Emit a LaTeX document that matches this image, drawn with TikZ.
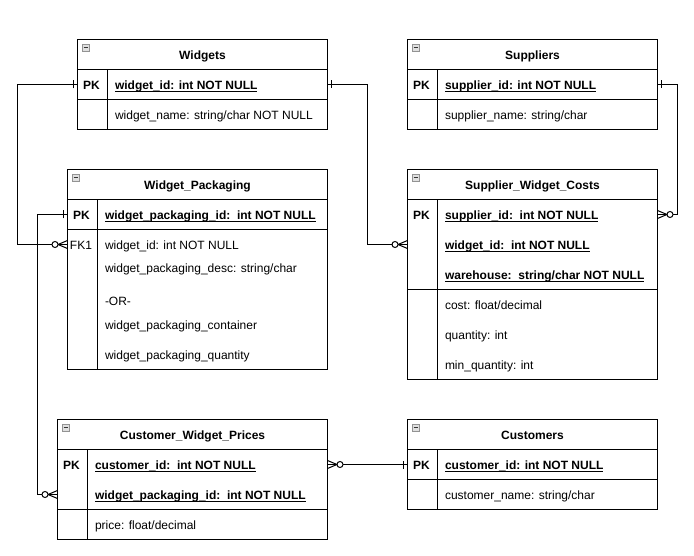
\documentclass[tikz,border=0pt]{standalone}
\usepackage{fontspec}
\setmainfont{Liberation Sans}
\newcommand\keyul[1]{\setbox0=\hbox{#1}\rlap{\rule[-2.2pt]{\wd0}{0.9pt}}\box0}
\tikzset{
  onebar/.pic={\draw[line width=1pt] (4,-4) -- (4,4);},
  zmany/.pic={\draw[line width=1pt] (0,-4) -- (9.5,0) -- (0,4);
              \draw[line width=1pt, fill=white] (12.5,0) circle[radius=3pt];},
  collapse/.pic={\draw[gray!85, line width=0.8pt, fill=gray!25] (4.5,4.5) rectangle (12,12);
                 \draw[black!80, line width=1.1pt] (6,8.25) -- (10.5,8.25);}
}
\begin{document}
\begin{tikzpicture}[x=1pt,y=-1pt,
  every node/.style={font=\fontsize{12pt}{14pt}\selectfont, inner sep=0pt, outer sep=0pt},
  sec/.style={draw, line width=1pt, anchor=north west},
  hdr/.style={sec, minimum height=30pt, text height=9.6pt, text depth=0pt,
              font=\fontsize{12pt}{14pt}\selectfont\bfseries},
  fld/.style={anchor=west, text height=9.6pt, text depth=0pt},
  pk/.style={text height=9.6pt, text depth=0pt, font=\fontsize{12pt}{14pt}\selectfont\bfseries},
  fk/.style={text height=9.6pt, text depth=0pt},
  rowpt/.style={anchor=west, minimum height=20pt},
  tline/.style={line width=1pt},
  conn/.style={line width=1pt}
]
\fill[white] (0,0) rectangle (694,556);
\useasboundingbox (0,0) rectangle (694,556);

% ---------- Widgets ----------
\node[hdr, minimum width=250pt] (Wh) at (77.5,39.5) {Widgets};
\node[sec, minimum width=250pt, minimum height=30pt] (Wk) at (77.5,69.5) {};
\node[sec, minimum width=250pt, minimum height=30pt] (Wa) at (77.5,99.5) {};
\draw[tline] ([xshift=30pt]Wk.north west) -- ([xshift=30pt]Wa.south west);
\pic at (Wh.north west) {collapse};
\node[pk] (Wpkl) at (91.5,84.5) {PK};
\node[fld] (Wf1) at (115,84.5) {\bfseries\keyul{widget\_id: int NOT NULL}};
\node[fld] (Wf2) at (115,114.5) {widget\_name: string/char NOT NULL};

% ---------- Suppliers ----------
\node[hdr, minimum width=250pt] (Sh) at (407.5,39.5) {Suppliers};
\node[sec, minimum width=250pt, minimum height=30pt] (Sk) at (407.5,69.5) {};
\node[sec, minimum width=250pt, minimum height=30pt] (Sa) at (407.5,99.5) {};
\draw[tline] ([xshift=30pt]Sk.north west) -- ([xshift=30pt]Sa.south west);
\pic at (Sh.north west) {collapse};
\node[pk] (Spkl) at (421.5,84.5) {PK};
\node[fld] (Sf1) at (445,84.5) {\bfseries\keyul{supplier\_id: int NOT NULL}};
\node[fld] (Sf2) at (445,114.5) {supplier\_name: string/char};

% ---------- Widget_Packaging ----------
\node[hdr, minimum width=260pt] (WPh) at (67.5,169.5) {Widget\_Packaging};
\node[sec, minimum width=260pt, minimum height=30pt] (WPk) at (67.5,199.5) {};
\node[sec, minimum width=260pt, minimum height=140pt] (WPa) at (67.5,229.5) {};
\draw[tline] ([xshift=30pt]WPk.north west) -- ([xshift=30pt]WPa.south west);
\pic at (WPh.north west) {collapse};
\node[pk] (WPpkl) at (81.5,214.5) {PK};
\node[fld] (WPf1) at (105,214.5) {\bfseries\keyul{widget\_packaging\_id:\ \ int NOT NULL}};
\node[fk] (WPfkl) at (81,244.5) {FK1};
\node[fld] (WPf2) at (105,244.5) {widget\_id: int NOT NULL};
\node[fld] (WPf3) at (105,267.5) {widget\_packaging\_desc: string/char};
\node[fld] (WPf4) at (105,300.5) {-OR-};
\node[fld] (WPf5) at (105,324.5) {widget\_packaging\_container};
\node[fld] (WPf6) at (105,354.5) {widget\_packaging\_quantity};
\node[rowpt, minimum width=260pt] (WPfk) at (67.5,244.5) {};

% ---------- Supplier_Widget_Costs ----------
\node[hdr, minimum width=250pt] (SWCh) at (407.5,169.5) {Supplier\_Widget\_Costs};
\node[sec, minimum width=250pt, minimum height=90pt] (SWCk) at (407.5,199.5) {};
\node[sec, minimum width=250pt, minimum height=90pt] (SWCa) at (407.5,289.5) {};
\draw[tline] ([xshift=30pt]SWCk.north west) -- ([xshift=30pt]SWCa.south west);
\pic at (SWCh.north west) {collapse};
\node[pk] (SWCpkl) at (421.5,214.5) {PK};
\node[fld] (SWCf1) at (445,214.5) {\bfseries\keyul{supplier\_id:\ \ int NOT NULL}};
\node[fld] (SWCf2) at (445,244.5) {\bfseries\keyul{widget\_id:\ \ int NOT NULL}};
\node[fld] (SWCf3) at (445,274.5) {\bfseries\keyul{warehouse:\ \ string/char NOT NULL}};
\node[fld] (SWCf4) at (445,304.5) {cost: float/decimal};
\node[fld] (SWCf5) at (445,334.5) {quantity: int};
\node[fld] (SWCf6) at (445,364.5) {min\_quantity: int};
\node[rowpt, minimum width=250pt] (SWCr1) at (407.5,214.5) {};
\node[rowpt, minimum width=250pt] (SWCr2) at (407.5,244.5) {};

% ---------- Customer_Widget_Prices ----------
\node[hdr, minimum width=270pt] (CWPh) at (57.5,419.5) {Customer\_Widget\_Prices};
\node[sec, minimum width=270pt, minimum height=60pt] (CWPk) at (57.5,449.5) {};
\node[sec, minimum width=270pt, minimum height=30pt] (CWPa) at (57.5,509.5) {};
\draw[tline] ([xshift=30pt]CWPk.north west) -- ([xshift=30pt]CWPa.south west);
\pic at (CWPh.north west) {collapse};
\node[pk] (CWPpkl) at (71.5,464.5) {PK};
\node[fld] (CWPf1) at (95,464.5) {\bfseries\keyul{customer\_id:\ \ int NOT NULL}};
\node[fld] (CWPf2) at (95,494.5) {\bfseries\keyul{widget\_packaging\_id:\ \ int NOT NULL}};
\node[fld] (CWPf3) at (95,524.5) {price: float/decimal};
\node[rowpt, minimum width=270pt] (CWPr1) at (57.5,464.5) {};
\node[rowpt, minimum width=270pt] (CWPr2) at (57.5,494.5) {};

% ---------- Customers ----------
\node[hdr, minimum width=250pt] (Ch) at (407.5,419.5) {Customers};
\node[sec, minimum width=250pt, minimum height=30pt] (Ck) at (407.5,449.5) {};
\node[sec, minimum width=250pt, minimum height=30pt] (Ca) at (407.5,479.5) {};
\draw[tline] ([xshift=30pt]Ck.north west) -- ([xshift=30pt]Ca.south west);
\pic at (Ch.north west) {collapse};
\node[pk] (Cpkl) at (421.5,464.5) {PK};
\node[fld] (Cf1) at (445,464.5) {\bfseries\keyul{customer\_id: int NOT NULL}};
\node[fld] (Cf2) at (445,494.5) {customer\_name: string/char};

% ---------- Connectors ----------
\draw[conn] (Wk.west) -- ++(-60.5,0) |- (WPfk.west);
\draw[conn] (Wk.east) -- ++(39.5,0) |- (SWCr2.west);
\draw[conn] (Sk.east) -- ++(20,0) |- (SWCr1.east);
\draw[conn] (WPk.west) -- ++(-30,0) |- (CWPr2.west);
\draw[conn] (CWPr1.east) -- (Ck.west);

% ---------- End marks ----------
\pic[rotate=180] at (Wk.west) {onebar};
\pic[rotate=180] at (WPfk.west) {zmany};
\pic at (Wk.east) {onebar};
\pic[rotate=180] at (SWCr2.west) {zmany};
\pic at (Sk.east) {onebar};
\pic at (SWCr1.east) {zmany};
\pic[rotate=180] at (WPk.west) {onebar};
\pic[rotate=180] at (CWPr2.west) {zmany};
\pic at (CWPr1.east) {zmany};
\pic[rotate=180] at (Ck.west) {onebar};
\end{tikzpicture}
\end{document}
